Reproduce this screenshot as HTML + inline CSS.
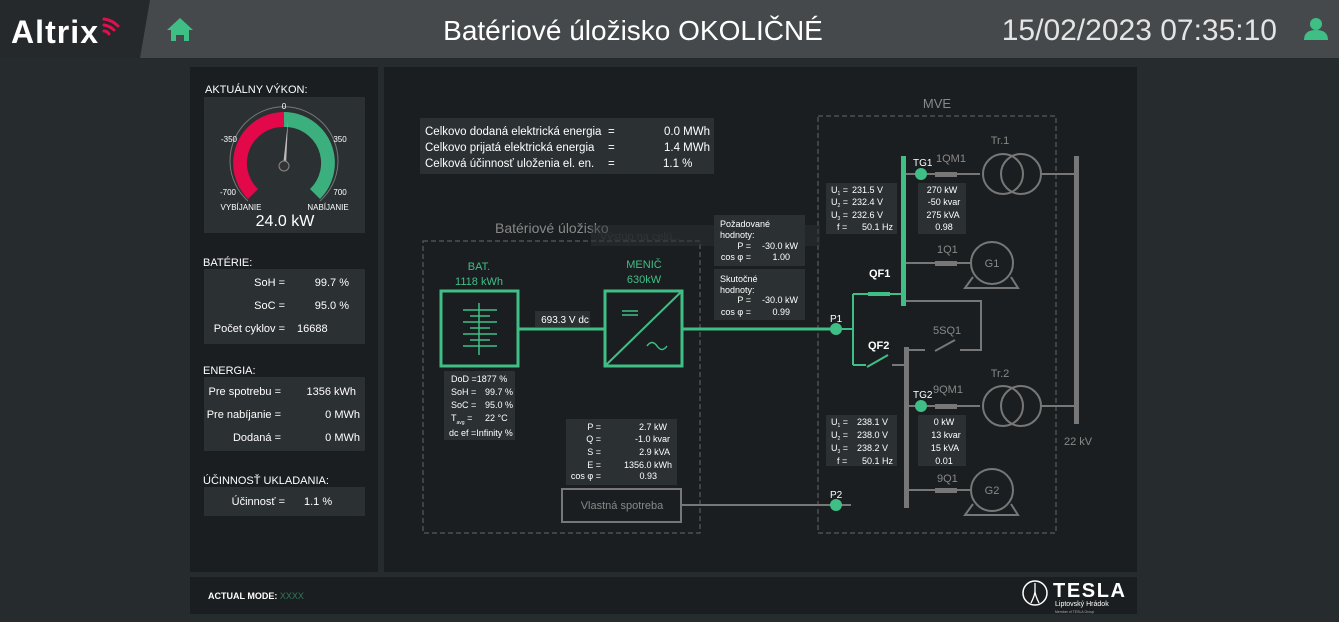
<!DOCTYPE html>
<html><head><meta charset="utf-8"><style>
html,body{margin:0;padding:0;background:#262b2e;}
svg{display:block;font-family:"Liberation Sans",sans-serif;}
</style></head><body>
<svg width="1339" height="622" viewBox="0 0 1339 622" xmlns="http://www.w3.org/2000/svg">
<rect width="1339" height="622" fill="#262b2e"/>
<!-- header -->
<rect x="0" y="0" width="1339" height="58" fill="#45494b"/>
<polygon points="0,0 150,0 140,58 0,58" fill="#25292c"/>
<text x="11" y="43" font-size="32" font-weight="bold" fill="#fff" textLength="87">Altrix</text>
<g fill="none" stroke="#e0104e" stroke-width="3" stroke-linecap="round">
<path d="M104,19 q8,1 14,7"/><path d="M104,25 q6,1 10,5"/><path d="M104,31 q3,0 5,3"/></g>
<path d="M167,30 L180,18 L193,30 Z M171,29 h18 v12 h-5 v-6 h-8 v6 h-5 Z" fill="#3fbf86"/>
<text x="633" y="40" font-size="28" fill="#fff" text-anchor="middle">Batériové úložisko OKOLIČNÉ</text>
<text x="1277" y="40" font-size="30" fill="#e4e4e4" text-anchor="end">15/02/2023 07:35:10</text>
<circle cx="1316" cy="24" r="6" fill="#3fbf86"/>
<path d="M1304,40 q0,-10 12,-10 q12,0 12,10 Z" fill="#3fbf86"/>
<!-- panels -->
<rect x="190" y="67" width="188" height="505" fill="#1b1e20"/>
<rect x="384" y="67" width="753" height="505" fill="#1b1e20"/>
<rect x="190" y="577" width="947" height="37" fill="#1b1e20"/>
<!-- left panel -->
<g font-size="11" fill="#fff">
<text x="205" y="93">AKTUÁLNY VÝKON:</text>
<rect x="204" y="97" width="161" height="136" fill="#2b3033"/>
<path d="M284,112 A51,51 0 0 0 248,199 L258,189 A36,36 0 0 1 284,127 Z" fill="#e2084a"/>
<path d="M284,112 A51,51 0 0 1 320,199 L310,189 A36,36 0 0 0 284,127 Z" fill="#3bb07e"/>
<path d="M248,201 A54,54 0 1 1 320,201" fill="none" stroke="#777" stroke-width="1"/>
<polygon points="283,166 286,166 288,121" fill="#bbb"/>
<circle cx="284" cy="166" r="5" fill="#333" stroke="#888"/>
<g font-size="8" text-anchor="middle"><text x="284" y="109">0</text><text x="229" y="142">-350</text><text x="340" y="142">350</text><text x="228" y="195">-700</text><text x="340" y="195">700</text>
<text x="241" y="210">VYBÍJANIE</text><text x="328" y="210">NABÍJANIE</text></g>
<text x="285" y="226" font-size="16" text-anchor="middle">24.0 kW</text>
<text x="203" y="266">BATÉRIE:</text>
<rect x="204" y="269" width="161" height="75" fill="#2b3033"/>
<text x="285" y="286" text-anchor="end">SoH =</text><text x="349" y="286" text-anchor="end">99.7 %</text>
<text x="285" y="309" text-anchor="end">SoC =</text><text x="349" y="309" text-anchor="end">95.0 %</text>
<text x="285" y="332" text-anchor="end">Počet cyklov =</text><text x="297" y="332">16688</text>
<text x="203" y="374">ENERGIA:</text>
<rect x="204" y="377" width="161" height="74" fill="#2b3033"/>
<text x="281" y="395" text-anchor="end">Pre spotrebu =</text><text x="356" y="395" text-anchor="end">1356 kWh</text>
<text x="281" y="418" text-anchor="end">Pre nabíjanie =</text><text x="360" y="418" text-anchor="end">0 MWh</text>
<text x="281" y="441" text-anchor="end">Dodaná =</text><text x="360" y="441" text-anchor="end">0 MWh</text>
<text x="203" y="484">ÚČINNOSŤ UKLADANIA:</text>
<rect x="204" y="487" width="161" height="29" fill="#2b3033"/>
<text x="285" y="505" text-anchor="end">Účinnosť =</text><text x="304" y="505">1.1 %</text>
</g>
<!-- footer -->
<text x="208" y="599" font-size="9" font-weight="bold" fill="#fff">ACTUAL MODE: <tspan fill="#2f7a58" font-weight="normal">XXXX</tspan></text>
<circle cx="1035" cy="593" r="12" fill="none" stroke="#fff" stroke-width="1.5"/>
<path d="M1035,583 v8 M1031,603 q4,-8 4,-12 q0,4 4,12" fill="none" stroke="#fff" stroke-width="1.3"/>
<text x="1053" y="597" font-size="20" font-weight="bold" fill="#fff" textLength="72">TESLA</text>
<text x="1055" y="606" font-size="7" fill="#fff">Liptovský Hrádok</text>
<text x="1055" y="613" font-size="3.5" fill="#aaa">Member of TESLA Group</text>
<!-- main diagram -->
<rect x="420" y="118" width="294" height="56" fill="#2b3033"/>
<g font-size="11.5" fill="#fff">
<text x="425" y="135">Celkovo dodaná elektrická energia</text><text x="608" y="135">=</text><text x="710" y="135" text-anchor="end">0.0 MWh</text>
<text x="425" y="151">Celkovo prijatá elektrická energia</text><text x="608" y="151">=</text><text x="710" y="151" text-anchor="end">1.4 MWh</text>
<text x="425" y="167">Celková účinnosť uloženia el. en.</text><text x="608" y="167">=</text><text x="663" y="167">1.1 %</text>
</g>
<text x="495" y="233" font-size="14" fill="#888">Batériové úložisko</text>
<rect x="423" y="241" width="277" height="292" fill="none" stroke="#666" stroke-dasharray="5,3"/>
<rect x="818" y="116" width="238" height="417" fill="none" stroke="#666" stroke-dasharray="5,3"/>
<text x="937" y="108" font-size="13" fill="#888" text-anchor="middle">MVE</text>
<rect x="591" y="225" width="229" height="21" fill="#2b3033" opacity="0.5"/>
<text x="600" y="240" font-size="11" fill="#2f3538">Výstup na celú...</text>
<!-- BAT -->
<g fill="#3fbf86" font-size="11" text-anchor="middle"><text x="479" y="270">BAT.</text><text x="479" y="285">1118 kWh</text>
<text x="644" y="268">MENIČ</text><text x="644" y="283">630kW</text></g>
<rect x="441" y="291" width="77" height="75" fill="none" stroke="#3fbf86" stroke-width="3"/>
<g stroke="#3fbf86" stroke-width="1.5"><path d="M479,303 v52"/><path d="M463,310 h34 M470,316 h20 M463,322 h34 M470,328 h20 M463,334 h34 M470,340 h20 M463,346 h34"/></g>
<path d="M518,329 H604" stroke="#3fbf86" stroke-width="3"/>
<rect x="535" y="311" width="55" height="16" fill="#2b3033"/>
<text x="565" y="323" font-size="10" fill="#fff" text-anchor="middle">693.3 V dc</text>
<rect x="605" y="291" width="77" height="75" fill="none" stroke="#3fbf86" stroke-width="3"/>
<path d="M605,366 L682,291" stroke="#3fbf86" stroke-width="2"/>
<path d="M622,311 h16 M622,315 h16" stroke="#3fbf86" stroke-width="1.5"/>
<path d="M647,346 q5,-7 10,0 t10,0" fill="none" stroke="#3fbf86" stroke-width="1.5"/>
<path d="M682,329 H836" stroke="#3fbf86" stroke-width="3"/>
<rect x="444" y="371" width="71" height="69" fill="#2b3033"/>
<g font-size="9" fill="#fff"><text x="451" y="382">DoD =1877 %</text><text x="451" y="395">SoH =</text><text x="485" y="395">99.7 %</text>
<text x="451" y="408">SoC =</text><text x="485" y="408">95.0 %</text><text x="451" y="421">T<tspan font-size="5" dy="3">avg</tspan><tspan dy="-3"> =</tspan></text><text x="485" y="421">22 °C</text>
<text x="449" y="436">dc ef =Infinity %</text></g>
<rect x="714" y="215" width="91" height="51" fill="#2b3033"/>
<rect x="714" y="269" width="91" height="51" fill="#2b3033"/>
<g font-size="9" fill="#fff"><text x="720" y="227">Požadované</text><text x="720" y="238">hodnoty:</text><text x="751" y="249" text-anchor="end">P =</text><text x="798" y="249" text-anchor="end">-30.0 kW</text>
<text x="751" y="260" text-anchor="end">cos φ =</text><text x="790" y="260" text-anchor="end">1.00</text>
<text x="720" y="282">Skutočné</text><text x="720" y="293">hodnoty:</text><text x="751" y="303" text-anchor="end">P =</text><text x="798" y="303" text-anchor="end">-30.0 kW</text>
<text x="751" y="315" text-anchor="end">cos φ =</text><text x="790" y="315" text-anchor="end">0.99</text></g>
<rect x="566" y="419" width="111" height="66" fill="#2b3033"/>
<g font-size="9" fill="#fff"><text x="601" y="430" text-anchor="end">P =</text><text x="667" y="430" text-anchor="end">2.7 kW</text>
<text x="601" y="442" text-anchor="end">Q =</text><text x="670" y="442" text-anchor="end">-1.0 kvar</text>
<text x="601" y="455" text-anchor="end">S =</text><text x="670" y="455" text-anchor="end">2.9 kVA</text>
<text x="601" y="468" text-anchor="end">E =</text><text x="672" y="468" text-anchor="end">1356.0 kWh</text>
<text x="601" y="479" text-anchor="end">cos φ =</text><text x="657" y="479" text-anchor="end">0.93</text></g>
<rect x="562" y="489" width="119" height="33" fill="none" stroke="#777" stroke-width="2"/>
<text x="622" y="509" font-size="11" fill="#888" text-anchor="middle">Vlastná spotreba</text>
<path d="M681,505 H851" stroke="#777" stroke-width="2"/>
<!-- MVE -->
<g stroke="#3fbf86" stroke-width="2" fill="none"><path d="M836,329 H853 M853,294 V365 M853,294 H903 M853,365 H866 M867,367 L888,355"/></g>
<rect x="868" y="292" width="22" height="4" fill="#3fbf86"/>
<rect x="901" y="156" width="5" height="150" fill="#3fbf86"/>
<g stroke="#777" stroke-width="2" fill="none">
<path d="M892,365 H906 M906,301 H981 V350 H960 M935,351 L955,340 M906,350 H925"/>
<path d="M906,174 H980 M1041,174 H1077 M906,263 H970 M906,406 H980 M1041,406 H1077 M906,490 H970"/>
<circle cx="1003" cy="174" r="20"/><circle cx="1021" cy="174" r="20"/>
<circle cx="1003" cy="406" r="20"/><circle cx="1021" cy="406" r="20"/>
<circle cx="992" cy="263" r="21"/><circle cx="992" cy="490" r="21"/>
<path d="M973,277 L965,288 H1018 L1011,277 M973,504 L965,515 H1018 L1011,504"/>
</g>
<rect x="935" y="172" width="22" height="5" fill="#777"/><rect x="935" y="261" width="22" height="5" fill="#777"/>
<rect x="935" y="404" width="22" height="5" fill="#777"/><rect x="935" y="488" width="22" height="5" fill="#777"/>
<rect x="904" y="347" width="5" height="161" fill="#777"/>
<rect x="1074" y="156" width="5" height="268" fill="#777"/>
<circle cx="836" cy="329" r="6" fill="#3fbf86"/><circle cx="836" cy="505" r="6" fill="#3fbf86"/>
<circle cx="921" cy="174" r="6" fill="#3fbf86"/><circle cx="921" cy="406" r="6" fill="#3fbf86"/>
<g font-size="10" fill="#fff"><text x="830" y="322">P1</text><text x="830" y="498">P2</text><text x="913" y="166">TG1</text><text x="913" y="398">TG2</text></g>
<g font-size="11" fill="#fff" font-weight="bold"><text x="869" y="277">QF1</text><text x="868" y="349">QF2</text></g>
<g font-size="11" fill="#888"><text x="936" y="162">1QM1</text><text x="1000" y="144" text-anchor="middle">Tr.1</text><text x="937" y="253">1Q1</text>
<text x="933" y="334">5SQ1</text><text x="933" y="393">9QM1</text><text x="1000" y="377" text-anchor="middle">Tr.2</text><text x="937" y="482">9Q1</text>
<text x="992" y="267" text-anchor="middle">G1</text><text x="992" y="494" text-anchor="middle">G2</text><text x="1064" y="445">22 kV</text></g>
<rect x="826" y="183" width="71" height="51" fill="#2b3033"/><rect x="918" y="183" width="48" height="51" fill="#2b3033"/>
<rect x="826" y="415" width="71" height="51" fill="#2b3033"/><rect x="918" y="415" width="48" height="51" fill="#2b3033"/>
<g font-size="9" fill="#fff">
<text x="831" y="193">U<tspan font-size="5" dy="2">1</tspan><tspan dy="-2"> =</tspan></text><text x="883" y="193" text-anchor="end">231.5 V</text>
<text x="831" y="205">U<tspan font-size="5" dy="2">2</tspan><tspan dy="-2"> =</tspan></text><text x="883" y="205" text-anchor="end">232.4 V</text>
<text x="831" y="218">U<tspan font-size="5" dy="2">3</tspan><tspan dy="-2"> =</tspan></text><text x="883" y="218" text-anchor="end">232.6 V</text>
<text x="837" y="230">f =</text><text x="893" y="230" text-anchor="end">50.1 Hz</text>
<text x="942" y="193" text-anchor="middle">270 kW</text><text x="944" y="205" text-anchor="middle">-50 kvar</text><text x="943" y="218" text-anchor="middle">275 kVA</text><text x="944" y="230" text-anchor="middle">0.98</text>
<text x="831" y="425">U<tspan font-size="5" dy="2">1</tspan><tspan dy="-2"> =</tspan></text><text x="888" y="425" text-anchor="end">238.1 V</text>
<text x="831" y="438">U<tspan font-size="5" dy="2">2</tspan><tspan dy="-2"> =</tspan></text><text x="888" y="438" text-anchor="end">238.0 V</text>
<text x="831" y="451">U<tspan font-size="5" dy="2">3</tspan><tspan dy="-2"> =</tspan></text><text x="888" y="451" text-anchor="end">238.2 V</text>
<text x="837" y="464">f =</text><text x="893" y="464" text-anchor="end">50.1 Hz</text>
<text x="944" y="425" text-anchor="middle">0 kW</text><text x="946" y="438" text-anchor="middle">13 kvar</text><text x="945" y="451" text-anchor="middle">15 kVA</text><text x="944" y="464" text-anchor="middle">0.01</text>
</g>
</svg>
</body></html>
